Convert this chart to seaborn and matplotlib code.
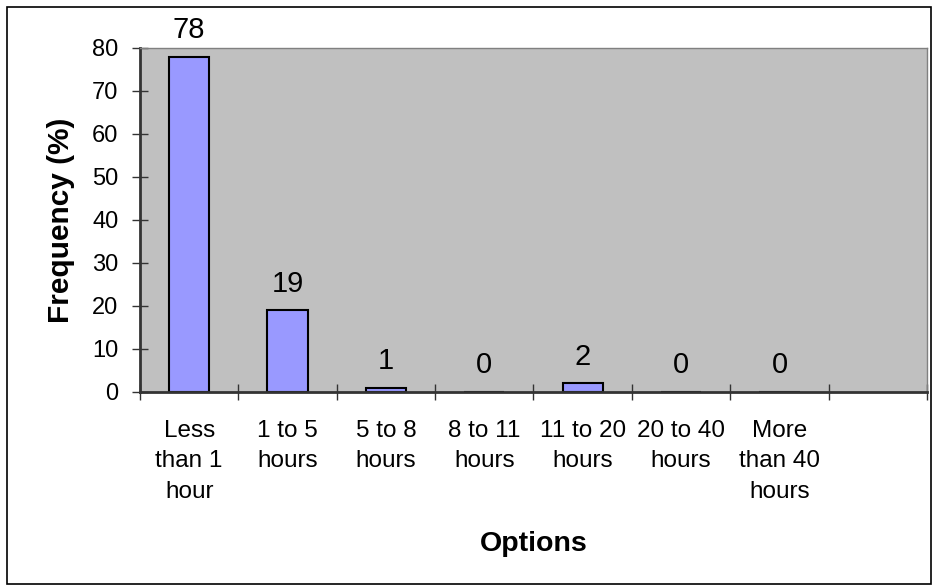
import numpy as np
import pandas as pd
import seaborn as sns
import matplotlib.pyplot as plt
from matplotlib.patches import Rectangle

# data
options = ["Less\nthan 1\nhour", "1 to 5\nhours", "5 to 8\nhours", "8 to 11\nhours",
           "11 to 20\nhours", "20 to 40\nhours", "More\nthan 40\nhours"]
frequency = [78, 19, 1, 0, 2, 0, 0]

df = pd.DataFrame({"option": options, "freq": frequency})

sns.set_style("white")
plt.rcParams["font.family"] = ["Liberation Sans", "DejaVu Sans"]
plt.rcParams["text.color"] = "black"
plt.rcParams["axes.labelcolor"] = "black"

fig = plt.figure(figsize=(9.33, 5.85), dpi=100)
ax = fig.add_axes([0.150, 0.330, 0.8436, 0.588])
ax.set_facecolor("#C0C0C0")

sns.barplot(data=df, x="option", y="freq", order=options, color="#9999FF",
            width=0.41, edgecolor="black", linewidth=1.5, saturation=1, ax=ax)

# value labels
for i, v in enumerate(frequency):
    ax.annotate(str(v), (i, v), xytext=(0, 9), textcoords="offset points",
                ha="center", va="bottom", fontsize=21, color="black",
                annotation_clip=False)

ax.set_xlim(-0.5, 7.5)
ax.set_ylim(0, 80)
ax.set_yticks(np.arange(0, 81, 10))
ax.tick_params(axis="y", labelsize=17, length=11, width=1, direction="inout",
               left=True, pad=10, color="#333333", labelcolor="black")

# ticks between categories, labels at centers
ax.set_xticks(np.arange(-0.5, 8, 1))
ax.set_xticklabels([])
ax.set_xticks(np.arange(0, 8), labels=options + [""], minor=True)
ax.tick_params(axis="x", which="major", length=11, width=1, direction="inout",
               bottom=True, color="#333333")
ax.tick_params(axis="x", which="minor", length=0, labelsize=17.5, pad=20, labelcolor="black")
for t in ax.get_xticklabels(minor=True):
    t.set_linespacing(1.5)

ax.set_xlabel("Options", fontsize=20.5, fontweight="bold", labelpad=20)
ax.set_ylabel("Frequency (%)", fontsize=21.5, fontweight="bold", labelpad=12)

for s in ["left", "bottom"]:
    ax.spines[s].set_color("#333333")
    ax.spines[s].set_linewidth(2)
for s in ["top", "right"]:
    ax.spines[s].set_color("#808080")
    ax.spines[s].set_linewidth(1)

# outer chart border
fig.patches.append(Rectangle((0.008, 0.002), 0.99, 0.986, transform=fig.transFigure,
                             fill=False, edgecolor="black", linewidth=1.2))

fig.savefig("out.png", dpi=100)
